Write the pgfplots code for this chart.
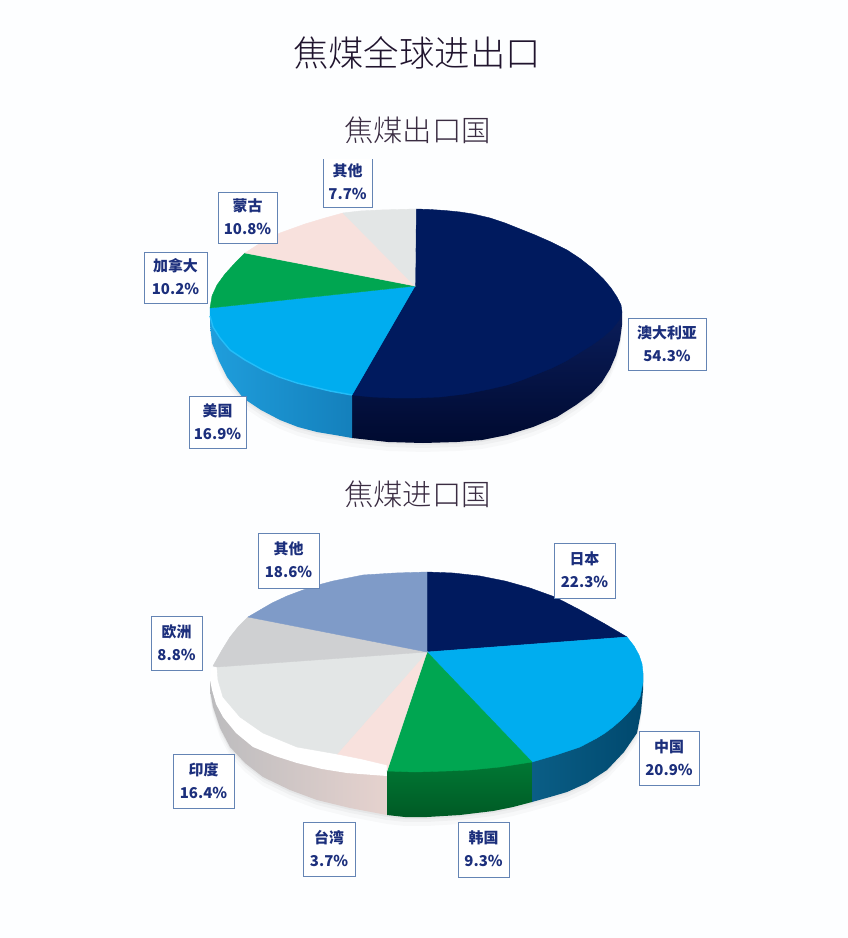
\documentclass[border=0pt]{standalone}
\usepackage{fontspec}
\setmainfont{Noto Sans CJK SC}
\newfontfamily\lightcjk{Noto Sans CJK SC Light}
\usepackage{pgfplots}
\usepackage{pgfplotstable}
\pgfplotsset{compat=1.18}

\definecolor{bgc}{HTML}{FDFEFF}
\definecolor{navy}{HTML}{001A5E}
\definecolor{navyrim}{HTML}{0B1F5E}
\definecolor{navydark}{HTML}{000A30}
\definecolor{cyan1}{HTML}{00ADEF}
\definecolor{cyanrim}{HTML}{24BDF8}
\definecolor{cyanl}{HTML}{1F9EDC}
\definecolor{cyanr}{HTML}{1480BC}
\definecolor{cyanda}{HTML}{0A5E86}
\definecolor{cyandb}{HTML}{00486E}
\definecolor{green1}{HTML}{00A651}
\definecolor{greena}{HTML}{007A35}
\definecolor{greenb}{HTML}{005A25}
\definecolor{pink1}{HTML}{F8E1DD}
\definecolor{grey1}{HTML}{E3E6E6}
\definecolor{sidel}{HTML}{BCBCBE}
\definecolor{sidem}{HTML}{CDCBCC}
\definecolor{sider}{HTML}{E6D2CE}
\definecolor{other1}{HTML}{7F9BC8}
\definecolor{euro}{HTML}{CFD0D2}
\definecolor{boxc}{HTML}{6484B4}
\definecolor{lblc}{HTML}{1C2F7C}
\definecolor{titc}{HTML}{20142E}
\definecolor{subc}{HTML}{3A2C42}

\pgfplotstableread[row sep=crcr]{
x y\\
210 308\\ 210 325\\ 212 343\\ 219 361\\ 227 377\\ 243 398\\ 261 410\\ 280 420\\ 298 427\\ 317 432\\ 335 435\\ 352 438\\
388 442\\ 423 443\\ 457 442\\ 482 440\\ 507 435\\ 533 427\\ 557 417\\ 576 405\\ 592 393\\ 602 382\\ 610 369\\ 616 355\\ 620 340\\ 622 325\\ 622 312\\
}\silA
\pgfplotstableread[row sep=crcr]{
x y\\
210 680\\ 210 690\\ 213 707\\ 220 728\\ 230 747\\ 245 763\\ 263 777\\ 290 790\\ 317 800\\ 350 808\\ 387 815\\
405 817\\ 427 817\\ 460 815\\ 493 811\\ 513 807\\ 532 802\\ 550 797\\ 567 792\\ 587 783\\ 607 770\\ 624 752\\ 637 733\\ 641 712\\ 643 690\\ 643 673\\
}\silB

\newcommand{\lbl}[6]{
  \draw[boxc, fill=white, line width=0.9pt] (#1,#2) rectangle (#3,#4);
  \node[lblc, font=\fontsize{15}{15}\selectfont\bfseries, inner sep=0pt] at ({(#1+#3)/2},{(#2+#4)/2-11.5}) {#5};
  \node[lblc, font=\fontsize{15}{15}\selectfont\bfseries, inner sep=0pt] at ({(#1+#3)/2},{(#2+#4)/2+11.5}) {#6};
}

\begin{document}
\begin{tikzpicture}
\begin{axis}[
  scale only axis, width=848bp, height=938bp,
  xmin=0, xmax=848, ymin=0, ymax=938,
  y dir=reverse, hide axis, no markers,
  face/.style={draw=#1, fill=#1, line width=0.4pt},
]
  \addplot[draw=none, fill=bgc] coordinates {(0,0)(848,0)(848,938)(0,938)} --cycle;

  % soft shadows under both pies
  \addplot[draw=none, fill=black, fill opacity=0.025, yshift=-9pt] table {\silA} --cycle;
  \addplot[draw=none, fill=black, fill opacity=0.03, yshift=-5pt] table {\silA} --cycle;
  \addplot[draw=none, fill=black, fill opacity=0.04, yshift=-2pt] table {\silA} --cycle;
  \addplot[draw=none, fill=black, fill opacity=0.025, yshift=-9pt] table {\silB} --cycle;
  \addplot[draw=none, fill=black, fill opacity=0.03, yshift=-5pt] table {\silB} --cycle;
  \addplot[draw=none, fill=black, fill opacity=0.04, yshift=-2pt] table {\silB} --cycle;

  % upper pie, sides
  \addplot[draw=none, top color=navyrim, bottom color=navydark] coordinates {
    (622,312)(622,325)(620,340)(616,355)(610,369)(602,382)(592,393)(576,405)(557,417)(533,427)(507,435)(482,440)(457,442)(423,443)(388,442)(352,438)(352,390)(600,300)} --cycle;
  \addplot[draw=none, left color=cyanl, right color=cyanr] coordinates {
    (210,308)(210,325)(212,343)(219,361)(227,377)(243,398)(261,410)(280,420)(298,427)(317,432)(335,435)(352,438)(352,390)(230,310)} --cycle;

  % upper pie, top face
  \addplot[face=navy] coordinates {
    (415,286)(416,209)(430,209.5)(445,210.5)(460,212)(473,214)(490,218)(505,223)(520,229)(535,235)(551,242)(567,250)(580,258.5)(592,268)(603,278.5)(611,288)(617,297)(621,305)(622,312)
    (619,320)(612,329)(603,337)(592,345)(579,353)(566,361)(552,368)(537,374)(522,380)(507,385)(490,389)(465,394)(440,397)(415,398)(395,398)(372,397)(352,395)} --cycle;
  \addplot[face=cyan1] coordinates {
    (415,286)(352,395)(330,391)(297,383)(279,377)(263,370)(245,360)(230,350)(220,338)(213,327)(210,316)(210,308)} --cycle;
  \addplot[face=green1] coordinates {
    (415,286)(210,308)(212,296)(217,285)(225,274)(235,263)(245,253)} --cycle;
  \addplot[face=pink1] coordinates {
    (415,286)(245,253)(262,242)(280,233)(305,224)(325,218)(343,213)} --cycle;
  \addplot[face=grey1] coordinates {
    (415,286)(343,213)(360,211)(380,210)(398,209.5)(416,209)} --cycle;
  \addplot[color=cyanrim, line width=1.4pt] coordinates {
    (352,395)(330,391)(297,383)(279,377)(263,370)(245,360)(230,350)(220,338)(213,327)(210,316)};

  % lower pie, sides
  \addplot[draw=none, left color=sidel, middle color=sidem, right color=sider] coordinates {
    (387,760)(387,815)(350,808)(317,800)(290,790)(263,777)(245,763)(230,747)(220,728)(213,707)(210,690)(210,680)} --cycle;
  \addplot[draw=none, fill=white] coordinates {
    (210,680)(212,690)(216,704)(223,717)(236,733)(253,747)(275,756)(297,763)(322,769)(347,773)(387,776)(387,760)(337,750)(217,667)(211,668)} --cycle;
  \addplot[draw=none, top color=greena, bottom color=greenb] coordinates {
    (387,768)(387,815)(405,817)(427,817)(460,815)(493,811)(513,807)(532,802)(532,758)} --cycle;
  \addplot[draw=none, left color=cyanda, right color=cyandb] coordinates {
    (532,758)(532,802)(550,797)(567,792)(587,783)(607,770)(624,752)(637,733)(641,712)(643,690)(643,673)} --cycle;

  % lower pie, top face
  \addplot[face=navy] coordinates {
    (427,652)(427,572)(453,573)(480,576)(505,581)(530,588)(555,597)(580,610)(605,624)(627,637)} --cycle;
  \addplot[face=cyan1] coordinates {
    (427,652)(627,637)(634,646)(639,655)(642,664)(643,673)(643,682)(640,697)(635,705)(628,713)(621,720)(613,727)(605,733)(597,738)(580,747)(556,755)(532,762)} --cycle;
  \addplot[face=green1] coordinates {
    (427,652)(532,762)(500,767)(470,770)(447,771)(415,772)(387,771)} --cycle;
  \addplot[face=pink1] coordinates {
    (427,652)(387,771)(387,765)(362,759)(337,754)} --cycle;
  \addplot[face=grey1] coordinates {
    (427,652)(337,754)(297,747)(263,733)(240,717)(223,697)(218,680)(217,667)} --cycle;
  \addplot[face=euro] coordinates {
    (427,652)(217,667)(213,666)(222,650)(230,637)(238,627)(248,617)} --cycle;
  \addplot[face=other1] coordinates {
    (427,652)(248,617)(260,610)(272,603)(287,596)(303,590)(318,585)(333,581)(348,578)(363,575)(395,573)(427,572)} --cycle;

  % titles
  \node[titc, font=\lightcjk\fontsize{35.5}{36}\selectfont, inner sep=0pt] at (417,53) {焦煤全球进出口};
  \node[subc, font=\lightcjk\fontsize{29.5}{30}\selectfont, inner sep=0pt] at (417.5,130) {焦煤出口国};
  \node[subc, font=\lightcjk\fontsize{29.5}{30}\selectfont, inner sep=0pt] at (417.5,494) {焦煤进口国};

  % callouts, upper pie
  \lbl{323}{158}{372}{207}{其他}{7.7\%}
  \draw[bgc, line width=1.4pt] (322,158) -- (373,158);
  \lbl{218}{192}{277}{243}{蒙古}{10.8\%}
  \lbl{144}{252}{207}{303}{加拿大}{10.2\%}
  \lbl{189}{396}{246}{448}{美国}{16.9\%}
  \lbl{628}{318}{706}{370}{澳大利亚}{54.3\%}
  % callouts, lower pie
  \lbl{258}{533}{319}{588}{其他}{18.6\%}
  \lbl{151}{616}{202}{670}{欧洲}{8.8\%}
  \lbl{173}{754}{234}{808}{印度}{16.4\%}
  \lbl{303}{822}{355}{876}{台湾}{3.7\%}
  \lbl{458}{822}{509}{877}{韩国}{9.3\%}
  \lbl{639}{731}{699}{785}{中国}{20.9\%}
  \lbl{554}{543}{615}{598}{日本}{22.3\%}
\end{axis}
\end{tikzpicture}
\end{document}
